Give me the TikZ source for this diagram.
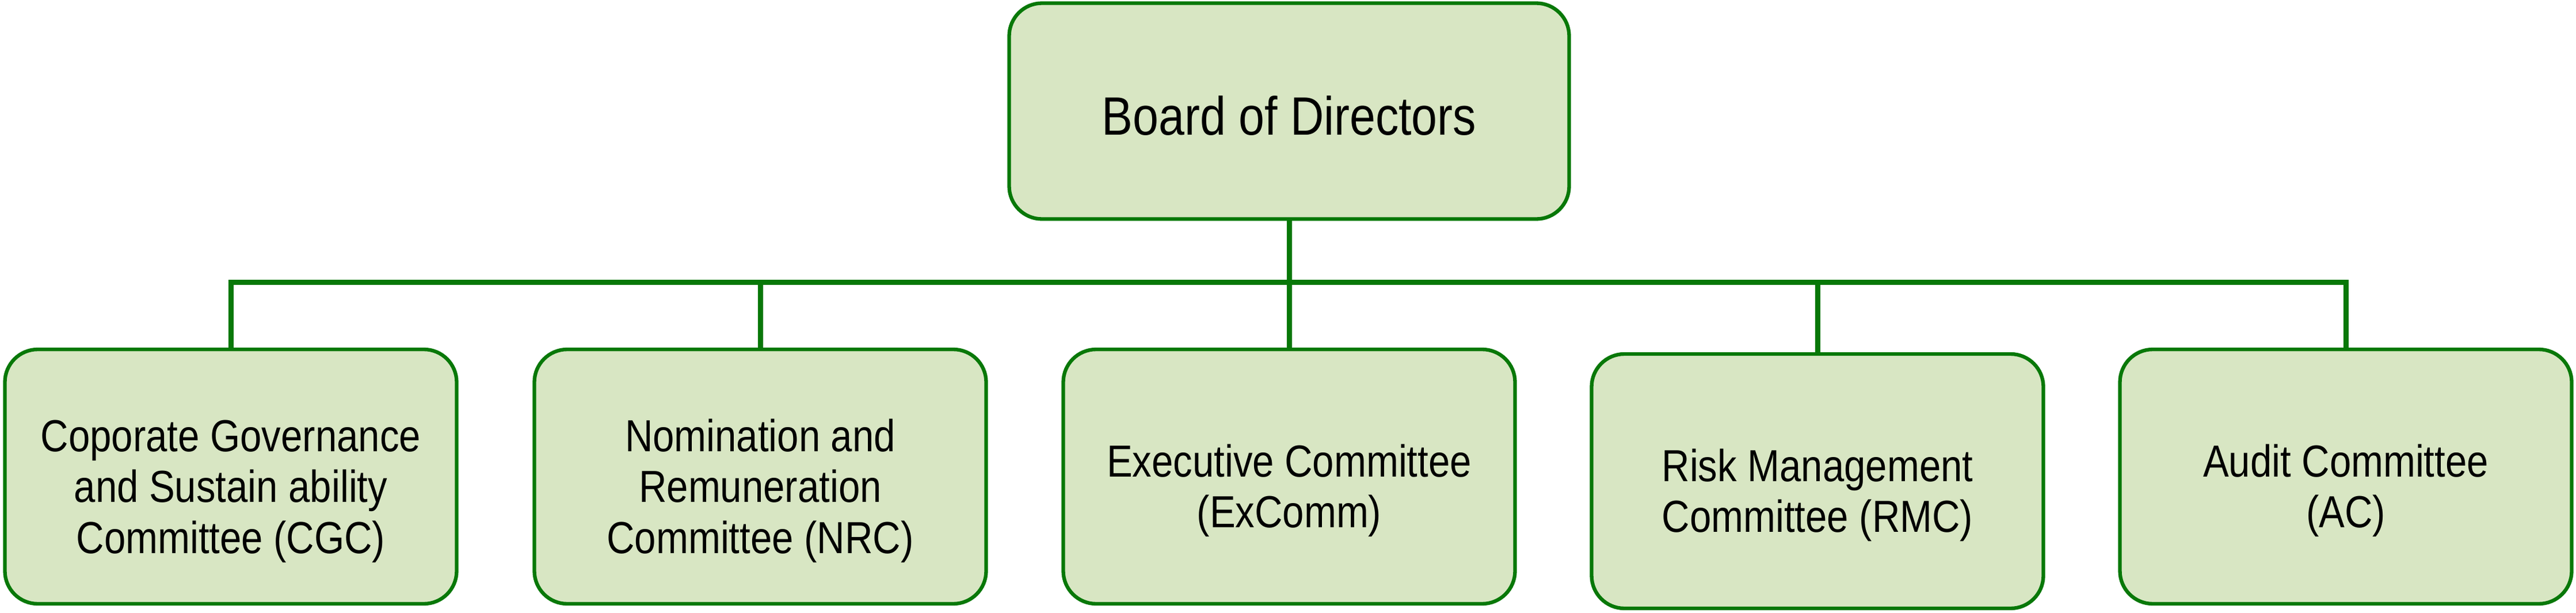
\documentclass[tikz,border=0pt]{standalone}
\usepackage{fontspec}
\setmainfont{Liberation Sans}[FakeStretch=0.86]
\definecolor{linegreen}{RGB}{8,120,8}
\definecolor{boxgreen}{RGB}{216,230,195}
% raise the first line so the text sits a little low in its box
\newcommand{\padtop}[1]{\rule{0pt}{#1}}
\tikzset{
  orgbox/.style={draw=linegreen, fill=boxgreen, line width=1.8pt,
    rounded corners=0.57cm, inner sep=0pt, outer sep=0pt, align=center},
  board/.style={orgbox, minimum width=9.73cm, minimum height=3.75cm,
    font=\fontsize{26.7}{30.7}\selectfont},
  committee/.style={orgbox, minimum width=7.85cm, minimum height=4.42cm,
    font=\fontsize{22.2}{25.2}\selectfont},
  bus line/.style={draw=linegreen, line width=2.56pt, line cap=rect},
  drop line/.style={draw=linegreen, line width=2.56pt}
}

\begin{document}
\begin{tikzpicture}
\useasboundingbox (0,0) rectangle (44.76,-10.65);
% Top of the chart
\node[board] (board) at (22.40,-1.93) {\padtop{24pt}Board of Directors};
% The five committees under the board
\node[committee] (cgc) at (4.01,-8.28) {\padtop{30pt}Coporate Governance\\and Sustain ability\\Committee (CGC)};
\node[committee] (nrc) at (13.21,-8.28) {\padtop{30pt}Nomination and\\Remuneration\\Committee (NRC)};
\node[committee] (excomm) at (22.40,-8.28) {\padtop{30pt}Executive Committee\\(ExComm)};
\node[committee] (rmc) at (31.58,-8.36) {\padtop{30pt}Risk Management\\Committee (RMC)};
\node[committee] (ac) at (40.76,-8.28) {\padtop{30pt}Audit Committee\\(AC)};
% Horizontal bus and the drops to each committee
\coordinate (bus) at (0,-4.90);
\draw[bus line] (cgc.north |- bus) -- (ac.north |- bus);
\draw[drop line] (board.south) -- (excomm.north);
\foreach \n in {cgc,nrc,rmc,ac}
  \draw[drop line] (\n.north |- bus) -- (\n.north);
\end{tikzpicture}
\end{document}
